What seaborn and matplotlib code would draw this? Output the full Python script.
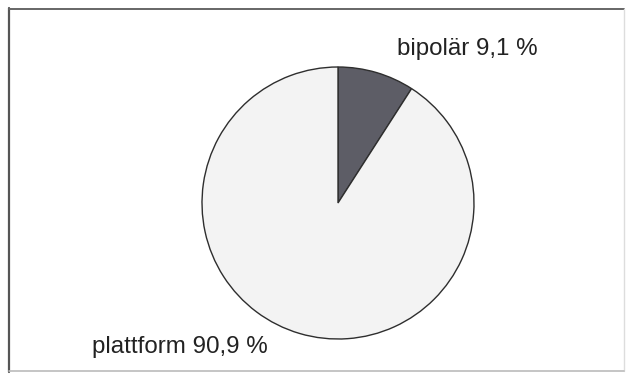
import matplotlib
matplotlib.use("Agg")
import matplotlib.pyplot as plt
import seaborn as sns
from matplotlib import font_manager

# Shares of the two types
categories = ["bipolär", "plattform"]
shares = [9.1, 90.9]
labels = ["bipolär 9,1 %", "plattform 90,9 %"]

sns.set_theme(style="white")
names = {f.name for f in font_manager.fontManager.ttflist}
family = ["Liberation Sans Narrow"] if "Liberation Sans Narrow" in names else ["Liberation Sans"]
plt.rcParams["font.family"] = family + ["DejaVu Sans"]

W, H = 627, 374
fig = plt.figure(figsize=(W / 100, H / 100), dpi=100)
ax = fig.add_axes([0, 0, 1, 1])

colors = ["#5d5d66", "#f3f3f3"]
ax.pie(shares, colors=colors, startangle=90, counterclock=False,
       center=(338, 171), radius=136, frame=True,
       wedgeprops=dict(edgecolor="#2e2e2e", linewidth=1.0))
ax.set_xlim(0, W)
ax.set_ylim(0, H)
ax.set_aspect("equal")
ax.axis("off")

fs = 17.4 if family[0] == "Liberation Sans" else 19
ax.text(397, 319, labels[0], fontsize=fs, color="#222222", ha="left", va="baseline")
ax.text(92, 21, labels[1], fontsize=fs, color="#222222", ha="left", va="baseline")

# Surrounding frame
ax.plot([9, 9], [2, 366], color="#555555", lw=1.6)
ax.plot([9, 624], [365.5, 365.5], color="#666666", lw=1.4)
ax.plot([624, 624], [3, 365.5], color="#dddddd", lw=1.0)
ax.plot([9, 624], [3, 3], color="#bbbbbb", lw=1.2)

fig.savefig("out.png", dpi=100, facecolor="white")
